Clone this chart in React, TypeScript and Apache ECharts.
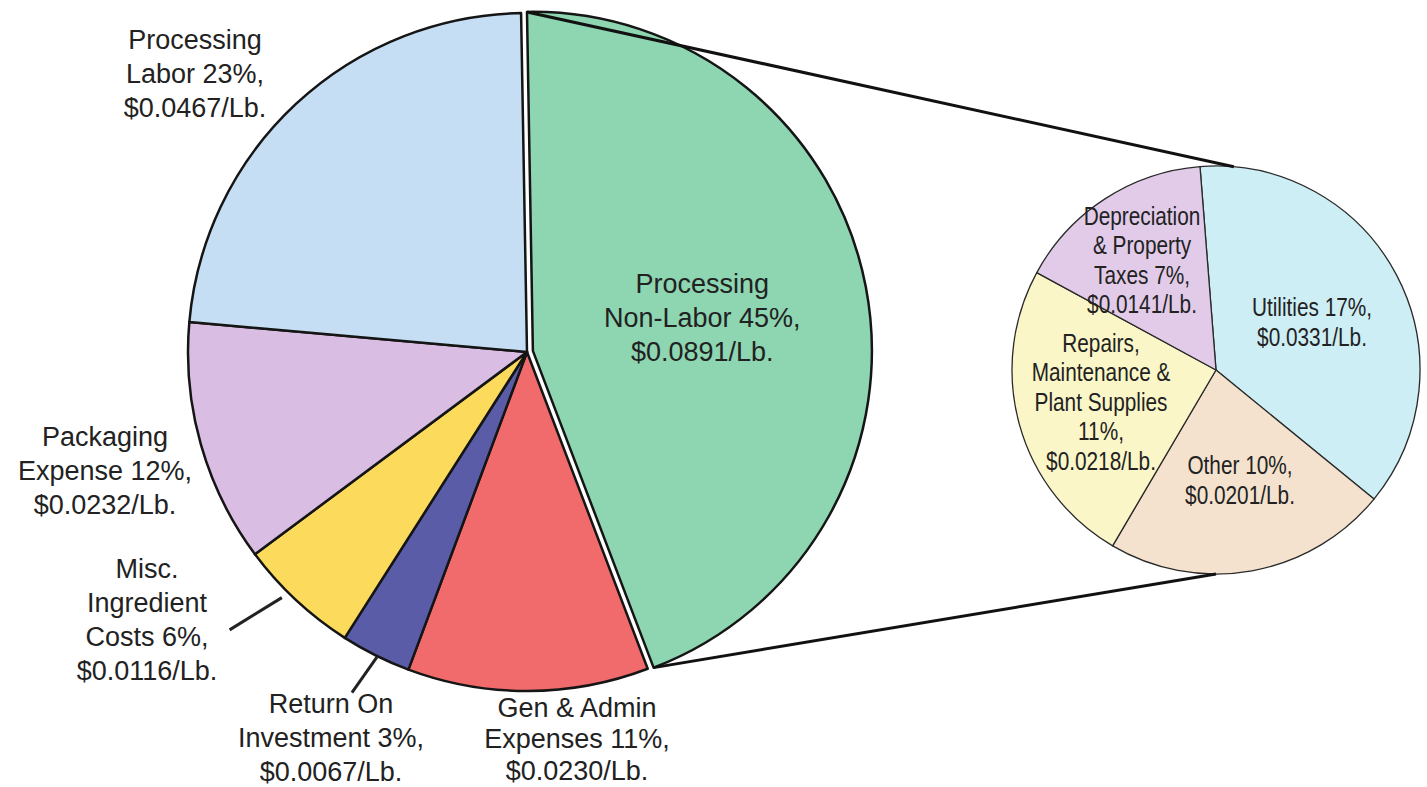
import React, { useEffect, useRef } from "react";
import * as echarts from "echarts";

// ---- data ----
const mainNames = [
  "Processing\nNon-Labor",
  "Gen & Admin\nExpenses",
  "Return On\nInvestment",
  "Misc.\nIngredient\nCosts",
  "Packaging\nExpense",
  "Processing\nLabor",
];
const mainValues = [0.0891, 0.023, 0.0067, 0.0116, 0.0232, 0.0467];
const mainPercents = [45, 11, 3, 6, 12, 23];

const subNames = [
  "Utilities",
  "Other",
  "Repairs,\nMaintenance &\nPlant Supplies\n",
  "Depreciation\n& Property\nTaxes",
];
const subValues = [0.0331, 0.0201, 0.0218, 0.0141];
const subPercents = [17, 10, 11, 7];

// ---- styles / layout ----
const mainColors = ["#8ED5B1", "#F26B6C", "#5A5CA8", "#FBDA5C", "#D9BDE3", "#C5DEF3"];
const subColors = ["#CDEEF4", "#F4E2CE", "#FAF6C8", "#E1CBE9"];
const MAIN_C = [527, 352];
const MAIN_R = 339;
const MAIN_START = 91;
const EXPLODE = 6;
const SUB_C = [1216, 370];
const SUB_R = 204;
const SUB_START = 94.5;
const mainLabelPos = [
  [700, 323],
  [577, 739],
  [331, 738],
  [147, 620],
  [105, 471],
  [195, 74],
];
const mainLineHeights = [34, 31.5, 34, 34, 34, 34];
const subLabelPos = [
  [1312, 322],
  [1240, 480],
  [1101, 402],
  [1142, 260],
];
// leader lines: [radius offset start, angle offset start, radius offset end, angle offset end]
const leaders: Record<number, number[]> = { 3: [8, 2, 68, 4], 2: [1, -0.3, 44, 0.7] };

const fmtText = (names: string[], vals: number[], pcts: number[], i: number) => {
  const n = names[i];
  return n + (n.endsWith("\n") ? "" : " ") + pcts[i] + "%,\n$" + vals[i].toFixed(4) + "/Lb.";
};

// clock angle (deg, clockwise from 12 o'clock) -> xy
const polar = (c: number[], r: number, clock: number) => {
  const a = (clock * Math.PI) / 180;
  return [c[0] + r * Math.sin(a), c[1] - r * Math.cos(a)];
};

export default function App() {
  const ref = useRef<HTMLDivElement>(null);
  useEffect(() => {
    if (!ref.current) return;
    const chart = echarts.init(ref.current, null, { renderer: "svg" });
    const total = mainValues.reduce((a, b) => a + b, 0);
    const clockStart = 90 - MAIN_START;
    const angles: number[] = [];
    let acc = clockStart;
    mainValues.forEach((v) => {
      angles.push(acc);
      acc += (v / total) * 360;
    });
    angles.push(acc);
    const gMid = (angles[0] + angles[1]) / 2;
    const off = [EXPLODE * Math.sin((gMid * Math.PI) / 180), -EXPLODE * Math.cos((gMid * Math.PI) / 180)];
    const gs = polar(MAIN_C, MAIN_R, angles[0]);
    const ge = polar(MAIN_C, MAIN_R, angles[1]);
    const subTop = polar(SUB_C, SUB_R, 5);
    const subBot = polar(SUB_C, SUB_R, 180);

    const graphics: any[] = [
      {
        type: "line",
        z: 100,
        shape: { x1: gs[0] + off[0], y1: gs[1] + off[1], x2: subTop[0], y2: subTop[1] },
        style: { stroke: "#111", lineWidth: 3 },
      },
      {
        type: "line",
        z: 100,
        shape: { x1: ge[0] + off[0], y1: ge[1] + off[1], x2: subBot[0], y2: subBot[1] },
        style: { stroke: "#111", lineWidth: 3 },
      },
    ];
    Object.keys(leaders).forEach((k) => {
      const i = Number(k);
      const mid = (angles[i] + angles[i + 1]) / 2;
      const [r1, a1, r2, a2] = leaders[i];
      const p1 = polar(MAIN_C, MAIN_R + r1, mid + a1);
      const p2 = polar(MAIN_C, MAIN_R + r2, mid + a2);
      graphics.push({
        type: "line",
        z: 100,
        shape: { x1: p1[0], y1: p1[1], x2: p2[0], y2: p2[1] },
        style: { stroke: "#222", lineWidth: 3 },
      });
    });
    // condensed labels of the second pie
    subValues.forEach((_, i) => {
      graphics.push({
        type: "text",
        z: 110,
        x: subLabelPos[i][0],
        y: subLabelPos[i][1],
        scaleX: 0.8,
        style: {
          text: fmtText(subNames, subValues, subPercents, i),
          x: 0,
          y: 0,
          align: "center",
          verticalAlign: "middle",
          fontFamily: "'Liberation Sans', Arial, sans-serif",
          fontSize: 26,
          lineHeight: 29.5,
          fill: "#222",
        },
      });
    });

    const mainFont = "'Liberation Sans', Arial, sans-serif";

    chart.setOption({
      animation: false,
      backgroundColor: "#ffffff",
      series: [
        {
          type: "pie",
          silent: true,
          center: MAIN_C,
          radius: MAIN_R,
          startAngle: MAIN_START,
          clockwise: true,
          selectedMode: "multiple",
          selectedOffset: EXPLODE,
          avoidLabelOverlap: false,
          itemStyle: { borderColor: "#151515", borderWidth: 2.5 },
          label: {
            show: true,
            position: "inside",
            formatter: (p: any) => fmtText(mainNames, mainValues, mainPercents, p.dataIndex),
            fontFamily: mainFont,
            fontSize: 27,
            lineHeight: 34,
            color: "#222",
            align: "center",
          },
          labelLine: { show: false },
          labelLayout: (p: any) => ({
            x: mainLabelPos[p.dataIndex][0],
            y: mainLabelPos[p.dataIndex][1],
            align: "center",
            verticalAlign: "middle",
          }),
          data: mainValues.map((v, i) => ({
            value: v,
            name: mainNames[i],
            selected: i === 0,
            itemStyle: { color: mainColors[i] },
            label: { lineHeight: mainLineHeights[i] },
          })),
        },
        {
          type: "pie",
          silent: true,
          center: SUB_C,
          radius: SUB_R,
          startAngle: SUB_START,
          clockwise: true,
          avoidLabelOverlap: false,
          itemStyle: { borderColor: "#2a2a2a", borderWidth: 1.3 },
          label: { show: false },
          labelLine: { show: false },
          data: subValues.map((v, i) => ({
            value: v,
            name: subNames[i],
            itemStyle: { color: subColors[i] },
          })),
        },
      ],
      graphic: graphics,
    });
    return () => chart.dispose();
  }, []);
  return (
    <div
      ref={ref}
      style={{ position: "absolute", left: 0, top: 0, width: 1427, height: 787, background: "#fff" }}
    />
  );
}
